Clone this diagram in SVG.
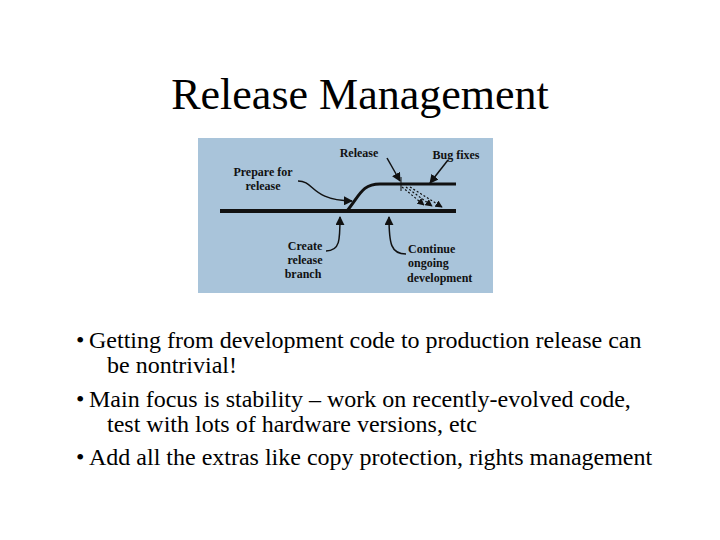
<svg xmlns="http://www.w3.org/2000/svg" width="720" height="540" viewBox="0 0 720 540">
<defs>
<style>
.t{font-family:"Liberation Serif",serif;fill:#000}
.d{font-family:"Liberation Serif",serif;font-size:12px;font-weight:bold;fill:#111}
.ln{fill:none;stroke:#111}
</style>
<marker id="ah" viewBox="0 0 10 10" refX="9" refY="5" markerWidth="6" markerHeight="6" orient="auto"><path d="M0,0L10,5L0,10z" fill="#111"/></marker>
</defs>
<rect width="720" height="540" fill="#fff"/>
<text class="t" x="360" y="109" font-size="44" text-anchor="middle">Release Management</text>
<g id="figure">
<rect x="198" y="138" width="295" height="155" fill="#a9c4da"/>
<g id="connectors">
<line class="ln" x1="220" y1="211" x2="456" y2="211" stroke-width="4"/>
<path class="ln" d="M347,211 C360,195 362,184 380,184 L456,184" stroke-width="3"/>
<line class="ln" x1="401" y1="177" x2="401" y2="191" stroke-width="1"/>
<path class="ln" d="M402,187 L424,205" stroke-width="1.2" stroke-dasharray="2,2" marker-end="url(#ah)"/>
<path class="ln" d="M406,187 L432,206" stroke-width="1.2" stroke-dasharray="2,2" marker-end="url(#ah)"/>
<path class="ln" d="M410,187 L442,207" stroke-width="1.2" stroke-dasharray="2,2" marker-end="url(#ah)"/>
<path class="ln" d="M387,158 L400,181" stroke-width="1.5" marker-end="url(#ah)"/>
<path class="ln" d="M448,160 L430,183" stroke-width="1.5" marker-end="url(#ah)"/>
<path class="ln" d="M298,181 C315,181 310,200 352,201" stroke-width="1.5" marker-end="url(#ah)"/>
<path class="ln" d="M326,251 C340,251 340,240 340,217" stroke-width="1.5" marker-end="url(#ah)"/>
<path class="ln" d="M406,254 C391,254 389,244 389,217" stroke-width="1.5" marker-end="url(#ah)"/>
</g>
<g id="labels">
<text class="d" x="359" y="157" text-anchor="middle">Release</text>
<text class="d" x="456" y="159" text-anchor="middle">Bug fixes</text>
<text class="d" x="263" y="176" text-anchor="middle">Prepare for</text>
<text class="d" x="263" y="190" text-anchor="middle">release</text>
<text class="d" x="305" y="250" text-anchor="middle">Create</text>
<text class="d" x="305" y="264" text-anchor="middle">release</text>
<text class="d" x="303" y="278" text-anchor="middle">branch</text>
<text class="d" x="408" y="253">Continue</text>
<text class="d" x="408" y="267">ongoing</text>
<text class="d" x="407" y="282">development</text>
</g>
</g>
<g class="t" font-size="24">
<text x="76" y="348">•</text><text x="89" y="348">Getting from development code to production release can</text>
<text x="107" y="373">be nontrivial!</text>
<text x="76" y="407">•</text><text x="89" y="407">Main focus is stability – work on recently-evolved code,</text>
<text x="107" y="432">test with lots of hardware versions, etc</text>
<text x="76" y="465">•</text><text x="89" y="465">Add all the extras like copy protection, rights management</text>
</g>
</svg>
